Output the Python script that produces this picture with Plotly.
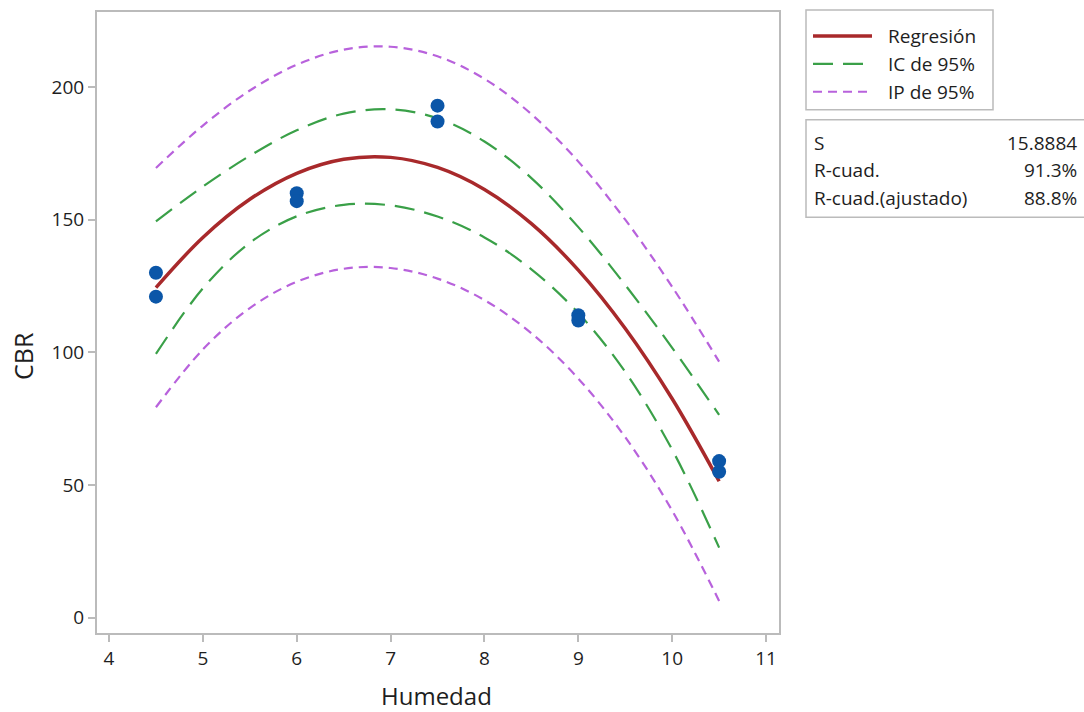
import plotly.graph_objects as go

# Observed data
humedad_obs = [4.5, 4.5, 6.0, 6.0, 7.5, 7.5, 9.0, 9.0, 10.5, 10.5]
cbr_obs = [130, 121, 160, 157, 193, 187, 114, 112, 59, 55]

# Curves
x_grid = [4.5, 5.0, 5.5, 6.0, 6.5, 7.0, 7.5, 8.0, 8.5, 9.0, 9.5, 10.0, 10.5]
fit = [124.4, 143.3, 157.7, 167.5, 172.8, 173.5, 169.7, 161.4, 148.5, 131.0, 109.0, 82.5, 51.4]
ci_lo = [99.4, 124.1, 141.3, 151.3, 155.6, 155.4, 151.2, 143.3, 131.3, 114.8, 92.6, 63.3, 26.4]
ci_hi = [149.4, 162.5, 174.1, 183.7, 190.0, 191.6, 188.2, 179.5, 165.7, 147.2, 125.4, 101.7, 76.4]
pi_lo = [79.3, 101.1, 116.7, 126.6, 131.5, 131.8, 127.8, 119.7, 107.2, 90.1, 68.0, 40.3, 6.3]
pi_hi = [169.5, 185.5, 198.7, 208.4, 214.1, 215.2, 211.6, 203.1, 189.8, 171.9, 150.0, 124.7, 96.5]

legend_labels = ["Regresión", "IC de 95%", "IP de 95%"]
stat_labels = ["S", "R-cuad.", "R-cuad.(ajustado)"]
stat_values = ["15.8884", "91.3%", "88.8%"]
x_ticks = [4, 5, 6, 7, 8, 9, 10, 11]
y_ticks = [0, 50, 100, 150, 200]
x_title = "Humedad"
y_title = "CBR"

RED = "#A8292B"
GREEN = "#3AA048"
PURPLE = "#B862DC"
BLUE = "#0B56A8"
FRAME = "#BBBBBB"
FONT = "Open Sans"
TXT = "#1E1E1E"

RED_LINE = dict(color=RED, width=3.5)
GREEN_LINE = dict(color=GREEN, width=2.2, dash="20px,10px")
PURPLE_LINE = dict(color=PURPLE, width=2.2, dash="9px,6px")

fig = go.Figure()
fig.add_trace(go.Scatter(x=x_grid, y=pi_hi, mode="lines", name=legend_labels[2],
                         line=dict(**PURPLE_LINE, shape="spline")))
fig.add_trace(go.Scatter(x=x_grid, y=pi_lo, mode="lines", name=legend_labels[2],
                         line=dict(**PURPLE_LINE, shape="spline")))
fig.add_trace(go.Scatter(x=x_grid, y=ci_hi, mode="lines", name=legend_labels[1],
                         line=dict(**GREEN_LINE, shape="spline")))
fig.add_trace(go.Scatter(x=x_grid, y=ci_lo, mode="lines", name=legend_labels[1],
                         line=dict(**GREEN_LINE, shape="spline")))
fig.add_trace(go.Scatter(x=x_grid, y=fit, mode="lines", name=legend_labels[0],
                         line=dict(**RED_LINE, shape="spline")))
fig.add_trace(go.Scatter(x=humedad_obs, y=cbr_obs, mode="markers", name="Datos",
                         marker=dict(color=BLUE, size=14)))

# plot area in page pixels
L, R, T, B = 97, 779, 10, 633


def px(v):
    return (v - L) / (R - L)


def py(v):
    return (B - v) / (B - T)


# Legend box (drawn manually)
fig.add_shape(type="rect", xref="paper", yref="paper", x0=px(806), x1=px(993), y0=py(108), y1=py(8),
              line=dict(color=FRAME, width=1.5), fillcolor="white")
leg_rows = [34, 62, 90]
leg_styles = [RED_LINE, GREEN_LINE, PURPLE_LINE]
for lab, st, ry in zip(legend_labels, leg_styles, leg_rows):
    fig.add_shape(type="line", xref="paper", yref="paper", x0=px(813), x1=px(872), y0=py(ry), y1=py(ry),
                  line=st)
    fig.add_annotation(xref="paper", yref="paper", x=px(886), y=py(ry), text=lab,
                       showarrow=False, xanchor="left", yanchor="middle",
                       font=dict(family=FONT, size=19, color=TXT))

# Stats box
fig.add_shape(type="rect", xref="paper", yref="paper", x0=px(806), x1=px(1090), y0=py(216), y1=py(118),
              line=dict(color=FRAME, width=1.5), fillcolor="white")
row_y = [141, 169, 197]
for lab, val, ry in zip(stat_labels, stat_values, row_y):
    fig.add_annotation(xref="paper", yref="paper", x=px(812), y=py(ry), text=lab,
                       showarrow=False, xanchor="left", yanchor="middle",
                       font=dict(family=FONT, size=19, color=TXT))
    fig.add_annotation(xref="paper", yref="paper", x=px(1079), y=py(ry), text=val,
                       showarrow=False, xanchor="right", yanchor="middle",
                       font=dict(family=FONT, size=19, color=TXT))

# Axis titles
fig.add_annotation(xref="paper", yref="paper", x=px(436), y=py(696), text=x_title,
                   showarrow=False, xanchor="center", yanchor="middle",
                   font=dict(family=FONT, size=24, color=TXT))
fig.add_annotation(xref="paper", yref="paper", x=px(23), y=py(355), text=y_title, textangle=-90,
                   showarrow=False, xanchor="center", yanchor="middle",
                   font=dict(family=FONT, size=25, color=TXT))

axis_common = dict(showline=True, mirror=True, linecolor=FRAME, linewidth=2,
                   ticks="outside", ticklen=7, tickcolor=FRAME, tickwidth=1.5, showgrid=False,
                   zeroline=False, tickfont=dict(family=FONT, size=19, color=TXT))
fig.update_xaxes(range=[3.872, 11.138], tickvals=x_ticks, **axis_common)
fig.update_yaxes(range=[-5.8, 228.3], tickvals=y_ticks, **axis_common)

fig.update_layout(
    width=1084, height=712,
    margin=dict(l=L, r=1084 - R, t=T, b=712 - B),
    plot_bgcolor="white", paper_bgcolor="white",
    font=dict(family=FONT),
    showlegend=False,
)

# remove the default 8px page margin so the figure fills the window exactly
fig.write_html("out.html", config={"displayModeBar": False},
               post_script="document.body.style.margin='0';document.body.style.overflow='hidden';")
